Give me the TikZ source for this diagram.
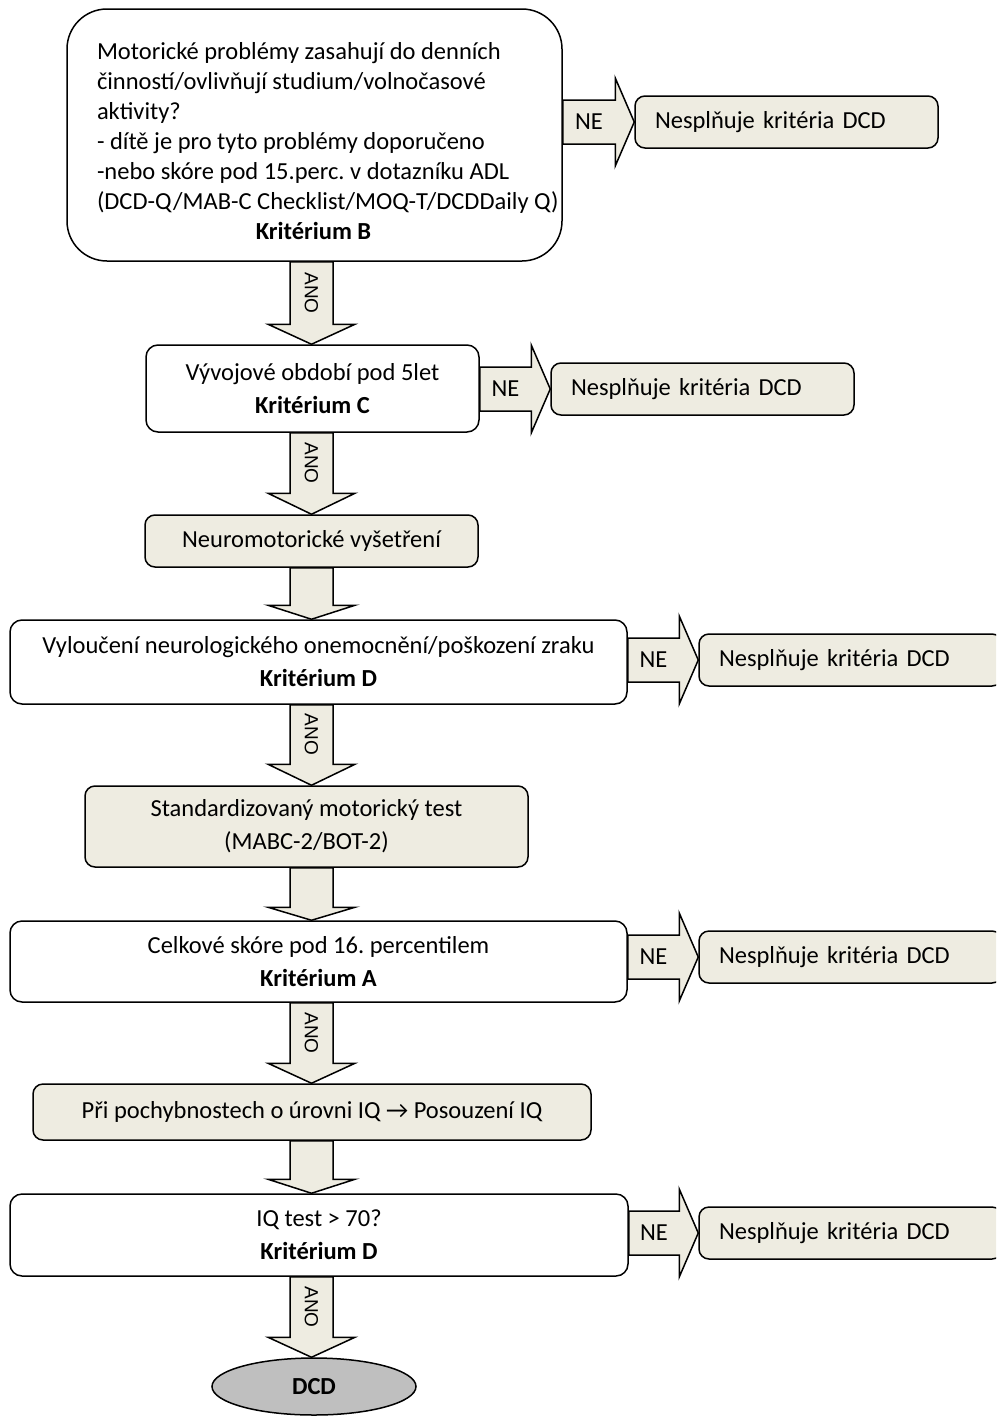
\documentclass[tikz,border=0pt]{standalone}
\usepackage{fontspec}
\setmainfont{Carlito}
\newfontfamily\anofont{Liberation Sans}
\usetikzlibrary{calc,shapes.geometric}
\definecolor{paper}{HTML}{EEECE1}
\definecolor{endgray}{HTML}{BFBFBF}
\frenchspacing

\tikzset{
  boxbase/.style={draw=black, line width=1.5pt, inner sep=0pt, align=center,
    font=\fontsize{24.5pt}{33pt}\selectfont},
  whitebox/.style={boxbase, fill=white, rounded corners=12pt},
  paperbox/.style={boxbase, fill=paper, rounded corners=10pt},
  resultbox/.style={boxbase, fill=paper, rounded corners=10pt, minimum height=52pt,
    text width=263pt, inner xsep=20pt, align=left},
  endbox/.style={boxbase, fill=endgray, ellipse},
  blockarrow/.style={draw=black, line width=1.5pt, fill=paper, line join=miter},
  anolabel/.style={font=\anofont\fontsize{19pt}{22pt}\selectfont, rotate=-90, inner sep=0pt},
  nelabel/.style={font=\fontsize{24.5pt}{30pt}\selectfont, inner sep=0pt},
}

% downward block arrow between two boxes: from, to, head length
\newcommand\flowdown[3]{%
  \draw[blockarrow] let \p1=(#1.south -| ax), \p2=(#2.north -| ax) in
    ({\x1-21.5pt},\y1) -- ({\x1+21.5pt},\y1) -- ({\x1+21.5pt},{\y2+#3pt})
    -- ({\x1+43.5pt},{\y2+#3pt}) -- (\x2,\y2) -- ({\x1-43.5pt},{\y2+#3pt})
    -- ({\x1-21.5pt},{\y2+#3pt}) -- cycle;}
% the same arrow carrying the rotated ANO label: from, to, head length, label name
\newcommand\flowdownlab[4]{%
  \draw[blockarrow] let \p1=(#1.south -| ax), \p2=(#2.north -| ax) in
    ({\x1-21.5pt},\y1) -- ({\x1+21.5pt},\y1) -- ({\x1+21.5pt},{\y2+#3pt})
    -- ({\x1+43.5pt},{\y2+#3pt}) -- (\x2,\y2) -- ({\x1-43.5pt},{\y2+#3pt})
    -- ({\x1-21.5pt},{\y2+#3pt}) -- cycle
    (\x1,{0.5*(\y1+\y2+#3pt)}) node[anolabel] (#4) {ANO};}
% rightward NE block arrow: from box, to result box, label name
\newcommand\flowright[3]{%
  \draw[blockarrow] let \p1=(#1.east), \p2=(#2.west) in
    (\x1,{\y2+22pt}) -- ({\x2-19pt},{\y2+22pt}) -- ({\x2-19pt},{\y2+44pt})
    -- (\x2,\y2) -- ({\x2-19pt},{\y2-44pt}) -- ({\x2-19pt},{\y2-22pt})
    -- (\x1,{\y2-22pt}) -- cycle
    ({0.5*(\x1+\x2)-9.5pt},\y2) node[nelabel] (#3) {NE};}

\begin{document}
\begin{tikzpicture}[x=1pt,y=-1pt]
\clip (0,0) rectangle (996,1416);
\fill[white] (0,0) rectangle (996,1416);
\coordinate (ax) at (311.5,0);

% boxes of the main column
\node[whitebox, rounded corners=40pt, minimum width=495pt, minimum height=252pt] (b1) at (314.5,135)
  {\hspace*{29pt}\begin{minipage}{464pt}\fontsize{24.5pt}{30pt}\selectfont\raggedright
   \vspace*{12pt}Motorické problémy zasahují do denních\\
   činností/ovlivňují studium/volnočasové\\
   aktivity?\\
   - dítě je pro tyto problémy doporučeno\\
   -nebo skóre pod 15.perc. v dotazníku ADL\\
   (DCD-Q/MAB-C Checklist/MOQ-T/DCDDaily Q)\par
   \noindent\makebox[433pt]{\textbf{Kritérium B}}\par
   \end{minipage}};
\node[whitebox, minimum width=333pt, minimum height=87pt] (b2) at (312.5,388.5)
  {Vývojové období pod 5let\\\textbf{Kritérium C}};
\node[paperbox, minimum width=333pt, minimum height=52pt] (b3) at (311.5,541)
  {Neuromotorické vyšetření};
\node[whitebox, minimum width=617pt, minimum height=84pt] (b4) at (318.5,662)
  {Vyloučení neurologického onemocnění/poškození zraku\\\textbf{Kritérium D}};
\node[paperbox, minimum width=443pt, minimum height=81pt] (b5) at (306.5,826.5)
  {Standardizovaný motorický test\\(MABC-2/BOT-2)};
\node[whitebox, minimum width=617pt, minimum height=81pt] (b6) at (318.5,961.5)
  {Celkové skóre pod 16. percentilem\\\textbf{Kritérium A}};
\node[paperbox, minimum width=558pt, minimum height=56pt] (b7) at (312,1112)
  {Při pochybnostech o úrovni IQ → Posouzení IQ};
\node[whitebox, minimum width=618pt, minimum height=82pt] (b8) at (319,1235)
  {IQ test > 70?\\\textbf{Kritérium D}};
\node[endbox, minimum width=204pt, minimum height=57pt] (dcd) at (314,1386.5)
  {\textbf{DCD}};

% result boxes on the right
\node[resultbox] (r1) at (786.5,122) {Nesplňuje kritéria DCD};
\node[resultbox] (r2) at (702.5,389) {Nesplňuje kritéria DCD};
\node[resultbox] (r4) at (850.5,660) {Nesplňuje kritéria DCD};
\node[resultbox] (r6) at (850.5,957) {Nesplňuje kritéria DCD};
\node[resultbox] (r8) at (850.5,1233) {Nesplňuje kritéria DCD};

% connectors
\flowdownlab{b1}{b2}{20}{ano1}
\flowdownlab{b2}{b3}{21}{ano2}
\flowdown{b3}{b4}{14}
\flowdownlab{b4}{b5}{21}{ano3}
\flowdown{b5}{b6}{13}
\flowdownlab{b6}{b7}{20}{ano4}
\flowdown{b7}{b8}{14}
\flowdownlab{b8}{dcd}{20}{ano5}

\flowright{b1}{r1}{ne1}
\flowright{b2}{r2}{ne2}
\flowright{b4}{r4}{ne4}
\flowright{b6}{r6}{ne6}
\flowright{b8}{r8}{ne8}
\end{tikzpicture}
\end{document}
